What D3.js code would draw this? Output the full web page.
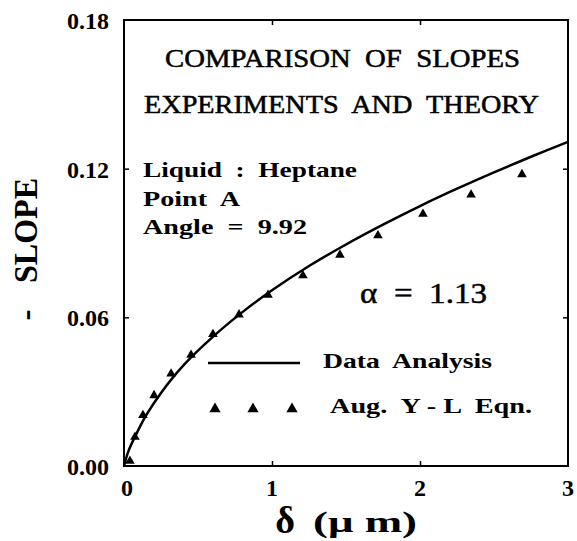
<!DOCTYPE html>
<html>
<head>
<meta charset="utf-8">
<script src="https://cdn.jsdelivr.net/npm/d3@7"></script>
<style>
  body { margin: 0; background: #fff; }
  text { white-space: pre; }
</style>
</head>
<body>
<div id="chart"></div>
<script>
var width = 577;
var height = 541;
var serif = "'Liberation Serif', 'Times New Roman', Times, 'DejaVu Serif', serif";

// data analysis curve
var curveDelta = [0, 0.03, 0.08, 0.15, 0.25, 0.4, 0.6, 0.8, 1.0, 1.25, 1.5, 1.75, 2.0, 2.25, 2.5, 2.75, 3.0];
var curveSlope = [0, 0.006, 0.0125, 0.0205, 0.0295, 0.0405, 0.0521, 0.0621, 0.0709, 0.0807, 0.0894, 0.0974, 0.1049, 0.1119, 0.1185, 0.1248, 0.1308];

// Aug. Y-L Eqn. triangles
var triDelta = [0.04, 0.074, 0.128, 0.203, 0.318, 0.453, 0.601, 0.777, 0.973, 1.209, 1.459, 1.716, 2.02, 2.345, 2.689];
var triSlope = [0.002, 0.0117, 0.0205, 0.0285, 0.0372, 0.0448, 0.0532, 0.0611, 0.069, 0.0769, 0.0852, 0.093, 0.1017, 0.1095, 0.1177];

var xTicks = [0, 1, 2, 3];
var yTicks = [0, 0.06, 0.12, 0.18];
var yTickLabels = ["0.00", "0.06", "0.12", "0.18"];

var x = d3.scaleLinear().domain([0, 3]).range([124, 568]);
var y = d3.scaleLinear().domain([0, 0.18]).range([466, 20]);

var svg = d3.select("#chart").append("svg").attr("width", width).attr("height", height)
    .attr("font-family", serif);
svg.append("rect").attr("width", width).attr("height", height).attr("fill", "#fff");

// frame
svg.append("rect")
    .attr("x", x(0)).attr("y", y(0.18))
    .attr("width", x(3) - x(0)).attr("height", y(0) - y(0.18))
    .attr("fill", "none").attr("stroke", "#000").attr("stroke-width", 2);

// inward ticks on all four sides
var ax = [
    {axis: d3.axisBottom(x).tickValues([1, 2]), t: "translate(0," + y(0) + ")"},
    {axis: d3.axisTop(x).tickValues([1, 2]), t: "translate(0," + y(0.18) + ")"},
    {axis: d3.axisLeft(y).tickValues([0.06, 0.12]), t: "translate(" + x(0) + ",0)"},
    {axis: d3.axisRight(y).tickValues([0.06, 0.12]), t: "translate(" + x(3) + ",0)"}
];
ax.forEach(function(a) {
    var g = svg.append("g").attr("transform", a.t)
        .call(a.axis.tickSizeInner(-5).tickSizeOuter(0).tickFormat(""));
    g.select(".domain").remove();
    g.selectAll("line").attr("stroke", "#000").attr("stroke-width", 1.5);
});

// helper for stretched text (the scan is wider than tall)
function label(tx, ty, str, size, len, bold) {
    var t = svg.append("text").attr("x", tx).attr("y", ty)
        .attr("font-family", serif).attr("font-size", size)
        .attr("font-weight", bold ? "bold" : "normal")
        .text(str);
    if (len) t.attr("textLength", len).attr("lengthAdjust", "spacingAndGlyphs");
    if (!bold) t.attr("stroke", "#000").attr("stroke-width", 0.5);
    return t;
}

// tick labels
svg.append("g").selectAll("text").data(yTicks).enter().append("text")
    .attr("x", 109).attr("y", function(d) { return y(d) + 9; })
    .attr("text-anchor", "end").attr("font-family", serif)
    .attr("font-size", 24).attr("font-weight", "bold")
    .text(function(d, i) { return yTickLabels[i]; });

svg.append("g").selectAll("text").data(xTicks).enter().append("text")
    .attr("x", function(d) { return x(d) + (d == 0 ? 3 : 0); }).attr("y", 496)
    .attr("text-anchor", "middle").attr("font-family", serif)
    .attr("font-size", 24).attr("font-weight", "bold")
    .text(function(d) { return d; });

// axis titles
svg.append("text").attr("transform", "translate(37,283) rotate(-90)")
    .attr("font-family", serif)
    .attr("font-size", 33).attr("font-weight", "bold")
    .attr("textLength", 105).attr("lengthAdjust", "spacingAndGlyphs")
    .text("SLOPE");
svg.append("text").attr("transform", "translate(37,315) rotate(-90)")
    .attr("text-anchor", "middle").attr("font-family", serif)
    .attr("font-size", 33).attr("font-weight", "bold")
    .text("-");

svg.append("text").attr("x", 285).attr("y", 533)
    .attr("text-anchor", "middle").attr("font-family", serif)
    .attr("font-size", 38).attr("font-weight", "bold")
    .text("δ");
label(313, 532, "(μ m)", 30, 104, true);

// title inside frame
label(165, 67, "COMPARISON  OF  SLOPES", 25, 355, false);
label(144, 113, "EXPERIMENTS  AND  THEORY", 25, 395, false);

// info block
label(143, 177, "Liquid  :  Heptane", 21, 214, true);
label(143, 206, "Point  A", 21, 97, true);
label(143, 234, "Angle  =  9.92", 21, 164, true);

label(360, 303, "α  =  1.13", 29, 127, false);

// curve
var line = d3.line()
    .x(function(d, i) { return x(curveDelta[i]); })
    .y(function(d) { return y(d); })
    .curve(d3.curveCatmullRom);
svg.append("path").datum(curveSlope)
    .attr("d", line)
    .attr("fill", "none").attr("stroke", "#000").attr("stroke-width", 2.5);

// triangles
var tri = d3.symbol().type(d3.symbolTriangle).size(40);
svg.append("g").selectAll("path").data(triSlope).enter().append("path")
    .attr("d", tri)
    .attr("transform", function(d, i) { return "translate(" + x(triDelta[i]) + "," + y(d) + ")"; })
    .attr("fill", "#000");

// legend
svg.append("line").attr("x1", 208).attr("x2", 300).attr("y1", 363).attr("y2", 363)
    .attr("stroke", "#000").attr("stroke-width", 2.5);
label(323, 368, "Data  Analysis", 22, 169, true);
var legendTri = [215, 253, 292];
svg.append("g").selectAll("path").data(legendTri).enter().append("path")
    .attr("d", d3.symbol().type(d3.symbolTriangle).size(55))
    .attr("transform", function(d) { return "translate(" + d + ",409)"; })
    .attr("fill", "#000");
label(330, 413, "Aug.  Y - L  Eqn.", 22, 202, true);
</script>
</body>
</html>
